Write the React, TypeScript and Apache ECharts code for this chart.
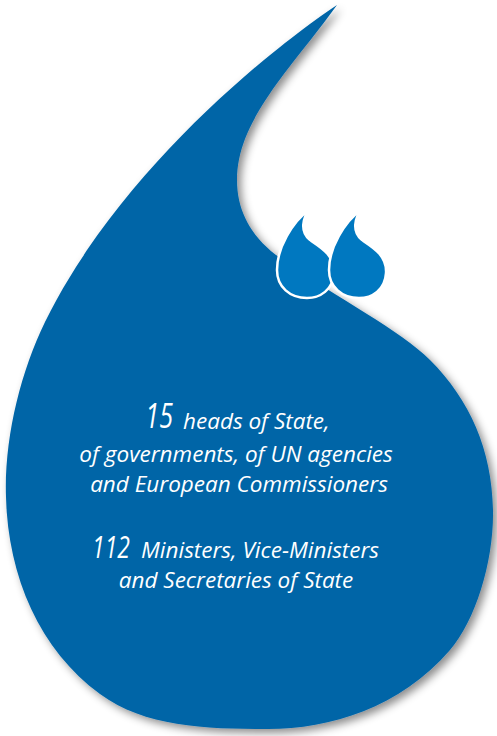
import React, { useEffect, useRef } from "react";
import * as echarts from "echarts";

// ---- content ----
const figures = [15, 112];
const headsLines = ["heads of State,", "of governments, of UN agencies", "and European Commissioners"];
const ministersLines = ["Ministers, Vice-Ministers", "and Secretaries of State"];

// ---- shapes ----
const DROP_D =
  "M337 5 C270 50 120 170 45 322 C20 373 4 440 6 497 C8 577 40 650 100 694 C145 727 205 729 268 729 C330 729 400 708 450 650 C476 620 494 560 493 510 C492 450 470 400 430 360 C400 330 340 300 280 258 C255 240 237 215 237 180 C237 120 290 70 337 5 Z";
const QUOTE_D =
  "M33 0 C25 9 23 23 33 31 C45 39 58 47 57 64 C56 81 43 89 30 89 C13 89 0 78 0 61 C0 39 15 13 33 0 Z";

try {
  echarts.graphic.registerShape("bigDrop", echarts.graphic.extendPath(DROP_D, {}) as any);
  echarts.graphic.registerShape("quoteMark", echarts.graphic.extendPath(QUOTE_D, {}) as any);
} catch (e) {
  // already registered
}

const SHAPE_BLUE = "#0565a7";
const QUOTE_BLUE = "#0078c0";
const FONT = '"Open Sans", "Noto Sans", sans-serif';
const BODY_SIZE = 22.5;

function txt(text: string, x: number, y: number, size: number, align: string, extra: any = {}) {
  return {
    type: "text",
    x,
    y,
    z: 10,
    ...extra,
    style: {
      text,
      fill: "#ffffff",
      fontFamily: FONT,
      fontStyle: "italic",
      fontWeight: "normal",
      fontSize: size,
      textAlign: align,
      align,
      textVerticalAlign: "middle",
      verticalAlign: "middle",
    },
  };
}

export default function App() {
  const ref = useRef<HTMLDivElement>(null);

  useEffect(() => {
    document.body.style.margin = "0";
    if (!ref.current) return;
    const chart = echarts.init(ref.current, undefined, { renderer: "svg" });

    const numScale = 0.74;
    const graphic: any[] = [
      {
        type: "bigDrop",
        x: 0,
        y: 0,
        z: 1,
        style: {
          fill: SHAPE_BLUE,
          shadowColor: "rgba(0,0,0,0.45)",
          shadowBlur: 9,
          shadowOffsetX: 4,
          shadowOffsetY: 4,
        },
      },
      {
        type: "quoteMark",
        x: 277,
        y: 209,
        z: 2,
        style: { fill: QUOTE_BLUE, stroke: "#ffffff", lineWidth: 2.5 },
      },
      {
        type: "quoteMark",
        x: 329,
        y: 209,
        z: 3,
        style: { fill: QUOTE_BLUE, stroke: "#ffffff", lineWidth: 2.5 },
      },
      // heads block
      txt(String(figures[0]), 173, 415, 34, "right", { scaleX: numScale }),
      txt(headsLines[0], 183, 420, BODY_SIZE, "left"),
      txt(headsLines[1], 236, 453, BODY_SIZE, "center"),
      txt(headsLines[2], 239, 483, BODY_SIZE, "center"),
      // ministers block
      txt(String(figures[1]), 130, 546, 31, "right", { scaleX: numScale }),
      txt(ministersLines[0], 141, 549, BODY_SIZE, "left"),
      txt(ministersLines[1], 236, 579, BODY_SIZE, "center"),
    ];

    chart.setOption({
      animation: false,
      backgroundColor: "#ffffff",
      graphic,
    });

    return () => {
      chart.dispose();
    };
  }, []);

  return (
    <div
      ref={ref}
      style={{ position: "fixed", left: 0, top: 0, width: 497, height: 736 }}
    />
  );
}
